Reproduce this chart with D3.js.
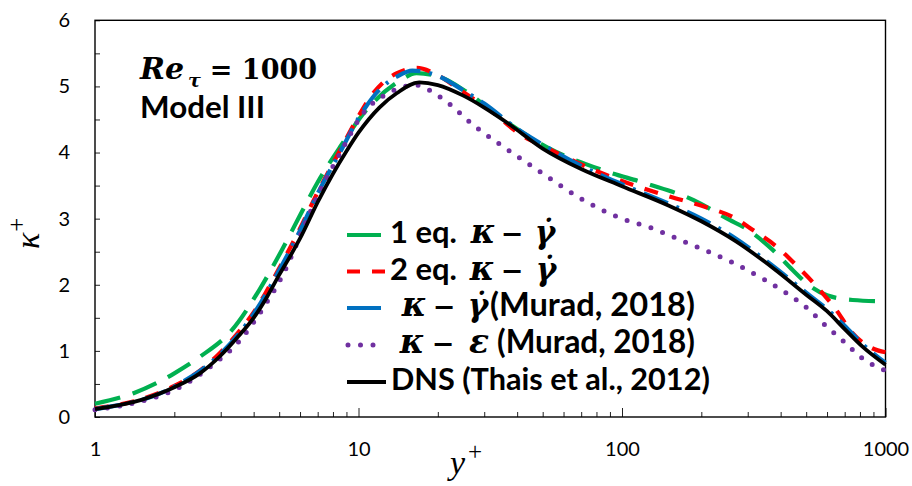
<!DOCTYPE html>
<html><head><meta charset="utf-8">
<script src="https://cdn.jsdelivr.net/npm/d3@7"></script>
<style>body{margin:0;background:#fff}svg{display:block}</style>
</head><body><svg id="c" width="912" height="486"></svg>
<script>
// ---- data ----
const xMajorTicks = [1, 10, 100, 1000];
const xMinorTicks = [2,3,4,5,6,7,8,9,20,30,40,50,60,70,80,90,200,300,400,500,600,700,800,900];
const yMajorTicks = [0, 1, 2, 3, 4, 5, 6];
const yMinorTicks = [0.5, 1.5, 2.5, 3.5, 4.5, 5.5];

const greenYplus = [1,1.4,2,2.5,3.3,4.2,5,6,7,8.5,10.7,14.4,16.6,20.4,25,34.5,52,85,124,187,256,290,375,445,503,600,750,1000];
const greenKappa = [0.20,0.36,0.66,0.91,1.31,1.92,2.45,3.05,3.55,4.08,4.64,5.09,5.20,5.14,4.95,4.53,4.08,3.73,3.53,3.28,2.98,2.87,2.52,2.22,2.02,1.84,1.77,1.75];

const redYplus = [1,1.5,2,2.5,3,3.5,4,5,6,7,8.5,10,11,12.4,14,16.6,20,24,31.6,42,50,70,100,150,210,265,316,388,465,555,650,745,890,1000];
const redKappa = [0.13,0.27,0.47,0.70,0.98,1.28,1.58,2.25,2.85,3.40,4.03,4.55,4.82,5.06,5.20,5.28,5.17,4.96,4.64,4.25,4.10,3.82,3.57,3.34,3.17,3.02,2.82,2.57,2.27,1.95,1.62,1.28,1.04,0.98];

const blueYplus = [1,2,3,4,5,6,7,8.5,10,12,14,16,20,25,30,40,50,70,100,150,200,270,375,500,600,700,820,1000];
const blueKappa = [0.12,0.46,0.96,1.56,2.22,2.82,3.38,4.00,4.52,4.95,5.15,5.24,5.16,4.94,4.74,4.36,4.12,3.80,3.52,3.23,3.00,2.70,2.28,1.88,1.63,1.38,1.10,0.82];

const purpleYplus = [1,1.5,2,2.8,3.55,4.35,5.34,5.8,7,8.5,10.4,13,16.4,20.4,28,36.6,51,68,100,127,175,265,350,422,503,590,700,815,1000];
const purpleKappa = [0.11,0.24,0.41,0.79,1.16,1.65,2.27,2.60,3.35,3.98,4.59,4.90,5.02,4.84,4.38,4.05,3.66,3.33,3.00,2.87,2.64,2.33,2.07,1.87,1.65,1.39,1.13,0.89,0.70];

const dnsYplus = [1,1.5,2,2.5,3,3.5,4,4.5,5,5.5,6,7,8,9,10,12,14,17,20,25,30,37,50,70,100,150,200,270,375,500,600,700,820,1000];
const dnsKappa = [0.12,0.26,0.45,0.66,0.93,1.22,1.50,1.82,2.15,2.43,2.70,3.25,3.68,4.02,4.30,4.68,4.90,5.06,5.02,4.86,4.68,4.44,4.06,3.75,3.49,3.20,2.96,2.66,2.25,1.85,1.60,1.33,1.06,0.79];

const seriesNames = ["1 eq.", "2 eq.", "(Murad, 2018)", "(Murad, 2018)", "DNS (Thais et al., 2012)"];

// ---- drawing ----
const svg = d3.select("#c");
const L = 95, R = 885.5, T = 20.3, B = 417;
const x = d3.scaleLog().domain([1, 1000]).range([L, R]);
const y = d3.scaleLinear().domain([0, 6]).range([B, T]);

const sans = "Lato, 'Open Sans', sans-serif";
const serif = "'DejaVu Serif', 'Liberation Serif', serif";
const serif2 = "'Liberation Serif', serif";

// axes
const gx = svg.append("g").attr("transform", `translate(0,${B})`)
  .call(d3.axisBottom(x).tickValues(xMajorTicks).tickSize(-9).tickPadding(25).tickFormat(d3.format("d")));
const gxm = svg.append("g").attr("transform", `translate(0,${B})`)
  .call(d3.axisBottom(x).tickValues(xMinorTicks).tickSize(-5).tickFormat(""));
const gy = svg.append("g").attr("transform", `translate(${L},0)`)
  .call(d3.axisLeft(y).tickValues(yMajorTicks).tickSize(-5).tickPadding(25).tickFormat(d3.format("d")));
const gym = svg.append("g").attr("transform", `translate(${L},0)`)
  .call(d3.axisLeft(y).tickValues(yMinorTicks).tickSize(-5).tickFormat(""));
[gx, gxm, gy, gym].forEach(g => {
  g.select(".domain").remove();
  g.selectAll(".tick line").attr("stroke", "#222").attr("stroke-width", 1);
  g.selectAll("text").attr("font-family", sans).attr("font-size", 20).attr("fill", "#000");
});
gx.selectAll("text").attr("dy", "0.71em");

svg.append("rect").attr("x", L).attr("y", T).attr("width", R - L).attr("height", B - T)
  .attr("fill", "none").attr("stroke", "#000").attr("stroke-width", 1.4);

// series
const line = d3.line().x(d => x(d[0])).y(d => y(d[1])).curve(d3.curveMonotoneX);
const zip = (a, b) => a.map((v, i) => [v, b[i]]);
const series = [
  {xs: greenYplus, ys: greenKappa, color: "#00B050", w: 4.2, dash: "26,13", cap: "butt"},
  {xs: redYplus, ys: redKappa, color: "#FF0000", w: 4.2, dash: "14,12", cap: "butt"},
  {xs: blueYplus, ys: blueKappa, color: "#0070C0", w: 4.2, dash: "26,9,3,9", cap: "butt"},
  {xs: purpleYplus, ys: purpleKappa, color: "#7030A0", w: 5, dash: "0,12.5", cap: "round"},
  {xs: dnsYplus, ys: dnsKappa, color: "#000000", w: 3.8, dash: null, cap: "butt"}
];
series.forEach(s => {
  svg.append("path").datum(zip(s.xs, s.ys)).attr("d", line)
    .attr("fill", "none").attr("stroke", s.color).attr("stroke-width", s.w)
    .attr("stroke-dasharray", s.dash).attr("stroke-linecap", s.cap);
});

// helper to fit text width
function fit(t, w) {
  const fs = +t.attr("font-size");
  const m = t.node().getComputedTextLength();
  if (m > 0) t.attr("font-size", fs * w / m);
  return t;
}

// legend
const rowY = [235, 271.5, 308, 345, 382];
const sampleX = [[347, 381], [347, 386], [347, 381], [348, 378], [347, 386]];
series.forEach((s, i) => {
  svg.append("line").attr("x1", sampleX[i][0]).attr("x2", sampleX[i][1])
    .attr("y1", rowY[i]).attr("y2", rowY[i])
    .attr("stroke", s.color).attr("stroke-width", s.w)
    .attr("stroke-dasharray", i === 1 ? "13,12" : (i === 3 ? "0,12.5" : null))
    .attr("stroke-linecap", s.cap);
});
function sansText(str, x0, yb, w) {
  return fit(svg.append("text").attr("x", x0).attr("y", yb).attr("font-family", sans)
    .attr("font-weight", "bold").attr("font-size", 26).text(str), w);
}
function mathText(str, cx, yb, fs, italic) {
  return svg.append("text").attr("x", cx).attr("y", yb).attr("text-anchor", "middle")
    .attr("font-family", serif).attr("font-weight", "bold")
    .attr("font-style", italic ? "italic" : "normal").attr("font-size", fs).text(str);
}
function gammaDot(cx, yb) {
  mathText("γ\u0307", cx, yb, 31, true);
}
function kMinus(kx, mx, yb) {
  mathText("κ", kx, yb, 33, true);
  mathText("−", mx, yb, 27, false);
}
const base = rowY.map(v => v + 8);
sansText(seriesNames[0], 390, base[0], 67);
kMinus(483, 512, base[0]); gammaDot(545, base[0]);
sansText(seriesNames[1], 390, base[1], 67);
kMinus(482, 512, base[1]); gammaDot(546, base[1]);
kMinus(414, 444, base[2]); gammaDot(478, base[2]);
sansText(seriesNames[2], 490, base[2], 205);
kMinus(412, 443, base[3]); mathText("ε", 479, base[3], 33, true);
sansText(seriesNames[3], 497, base[3], 198);
sansText(seriesNames[4], 391, base[4], 319);

// annotation: Re_tau = 1000 as separate pieces
const reT = svg.append("text").attr("x", 140).attr("y", 79).attr("font-family", serif)
  .attr("font-weight", "bold").attr("font-style", "italic").attr("font-size", 30).text("Re");
const reEnd = 140 + reT.node().getComputedTextLength();
const tauT = svg.append("text").attr("x", reEnd + 4).attr("y", 87).attr("font-family", serif)
  .attr("font-weight", "bold").attr("font-style", "italic").attr("font-size", 19).text("τ");
const tauEnd = reEnd + 4 + tauT.node().getComputedTextLength();
fit(svg.append("text").attr("x", tauEnd + 9).attr("y", 79).attr("font-family", serif)
  .attr("font-weight", "bold").attr("font-size", 30).text("= 1000"), 317 - tauEnd - 9);
sansText("Model III", 140, 118, 125);

// axis titles
svg.append("text").attr("x", 450).attr("y", 474).attr("font-family", serif2).attr("font-style", "italic")
  .attr("font-size", 34).text("y")
  .append("tspan").attr("font-style", "normal").attr("font-size", 25).attr("dy", -14).attr("dx", 3).text("+");
svg.append("text").attr("transform", "translate(39,249) rotate(-90)").attr("font-family", serif2)
  .attr("font-style", "italic").attr("font-size", 34).text("κ")
  .append("tspan").attr("font-style", "normal").attr("font-size", 25).attr("dy", -14).attr("dx", 1).text("+");
</script>
</body></html>
